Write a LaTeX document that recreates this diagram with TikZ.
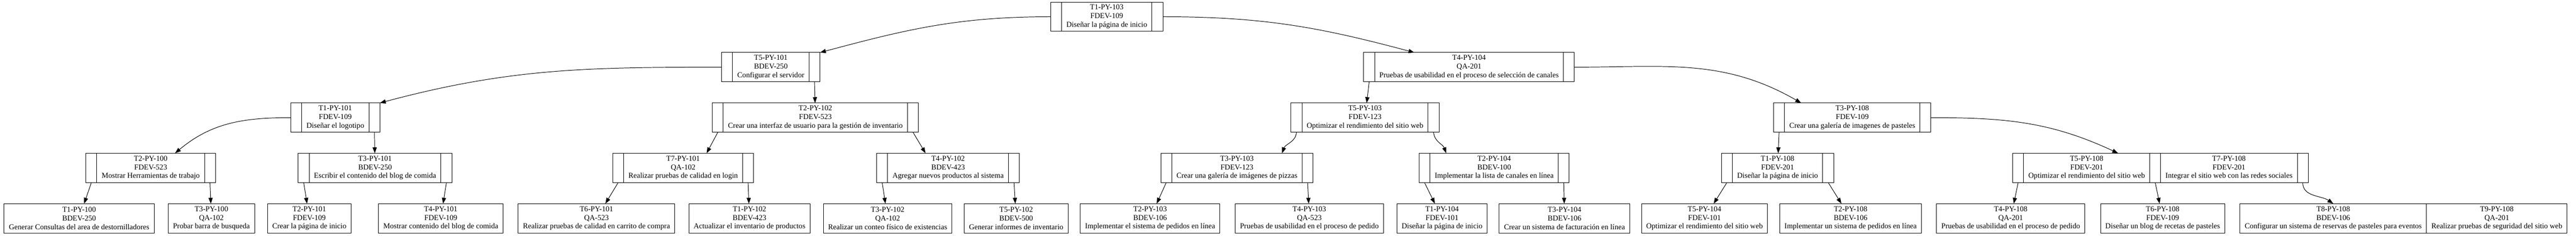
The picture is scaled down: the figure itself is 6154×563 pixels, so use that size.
\documentclass[tikz,border=0pt]{standalone}
\usepackage{fontspec}
\setmainfont{Liberation Serif}
\tikzset{
every picture/.style={
line width=1.2pt
}}
\usetikzlibrary{positioning, arrows.meta}

\begin{document}
\begin{tikzpicture}[x=1pt, y=-1pt,
font=\fontsize{18pt}{20.7pt}\selectfont,
keybox/.style = {rectangle, draw=black, align=center, inner xsep=11.5pt, inner ysep=0pt, minimum height=70pt, outer sep=0pt},
ptrbox/.style = {rectangle, draw=black, minimum width=26pt, minimum height=70pt, inner sep=0pt, outer sep=0pt},
leafbox/.style = {keybox},
link/.style = {-{Triangle[length=14pt, width=10pt]}}]

  \useasboundingbox (0,0) rectangle (6154,563);

  \node[keybox] (t1_103) at (2644,40) {T1-PY-103\\FDEV-109\\Diseñar la página de inicio};
  \node[ptrbox, left=0pt of t1_103] (t1_103_l) {};
  \node[ptrbox, right=0pt of t1_103] (t1_103_r) {};

  \node[keybox] (t5_101) at (1841.5,160.5) {T5-PY-101\\BDEV-250\\Configurar el servidor};
  \node[ptrbox, left=0pt of t5_101] (t5_101_l) {};
  \node[ptrbox, right=0pt of t5_101] (t5_101_r) {};
  \node[keybox] (t4_104) at (3509.5,160.5) {T4-PY-104\\QA-201\\Pruebas de usabilidad en el proceso de selección de canales};
  \node[ptrbox, left=0pt of t4_104] (t4_104_l) {};
  \node[ptrbox, right=0pt of t4_104] (t4_104_r) {};

  \node[keybox] (t1_101) at (801,281) {T1-PY-101\\FDEV-109\\Diseñar el logotipo};
  \node[ptrbox, left=0pt of t1_101] (t1_101_l) {};
  \node[ptrbox, right=0pt of t1_101] (t1_101_r) {};
  \node[keybox] (t2_102) at (1948,281) {T2-PY-102\\FDEV-523\\Crear una interfaz de usuario para la gestión de inventario};
  \node[ptrbox, left=0pt of t2_102] (t2_102_l) {};
  \node[ptrbox, right=0pt of t2_102] (t2_102_r) {};
  \node[keybox] (t5_103) at (3261,281) {T5-PY-103\\FDEV-123\\Optimizar el rendimiento del sitio web};
  \node[ptrbox, left=0pt of t5_103] (t5_103_l) {};
  \node[ptrbox, right=0pt of t5_103] (t5_103_r) {};
  \node[keybox] (t3_108) at (4425,281) {T3-PY-108\\FDEV-109\\Crear una galería de imagenes de pasteles};
  \node[ptrbox, left=0pt of t3_108] (t3_108_l) {};
  \node[ptrbox, right=0pt of t3_108] (t3_108_r) {};

  \node[keybox] (t2_100) at (360,401) {T2-PY-100\\FDEV-523\\Mostrar Herramientas de trabajo};
  \node[ptrbox, left=0pt of t2_100] (t2_100_l) {};
  \node[ptrbox, right=0pt of t2_100] (t2_100_r) {};
  \node[keybox] (t3_101) at (896,401) {T3-PY-101\\BDEV-250\\Escribir el contenido del blog de comida};
  \node[ptrbox, left=0pt of t3_101] (t3_101_l) {};
  \node[ptrbox, right=0pt of t3_101] (t3_101_r) {};
  \node[keybox] (t7_101) at (1632,401) {T7-PY-101\\QA-102\\Realizar pruebas de calidad en login};
  \node[ptrbox, left=0pt of t7_101] (t7_101_l) {};
  \node[ptrbox, right=0pt of t7_101] (t7_101_r) {};
  \node[keybox] (t4_102) at (2265,401) {T4-PY-102\\BDEV-423\\Agregar nuevos productos al sistema};
  \node[ptrbox, left=0pt of t4_102] (t4_102_l) {};
  \node[ptrbox, right=0pt of t4_102] (t4_102_r) {};
  \node[keybox] (t3_103) at (2955,401) {T3-PY-103\\FDEV-123\\Crear una galería de imágenes de pizzas};
  \node[ptrbox, left=0pt of t3_103] (t3_103_l) {};
  \node[ptrbox, right=0pt of t3_103] (t3_103_r) {};
  \node[keybox] (t2_104) at (3569.5,401) {T2-PY-104\\BDEV-100\\Implementar la lista de canales en línea};
  \node[ptrbox, left=0pt of t2_104] (t2_104_l) {};
  \node[ptrbox, right=0pt of t2_104] (t2_104_r) {};
  \node[keybox] (t1_108) at (4246.5,401) {T1-PY-108\\FDEV-201\\Diseñar la página de inicio};
  \node[ptrbox, left=0pt of t1_108] (t1_108_l) {};
  \node[ptrbox, right=0pt of t1_108] (t1_108_r) {};
  \node[keybox] (t5_108) at (4985,401) {T5-PY-108\\FDEV-201\\Optimizar el rendimiento del sitio web};
  \node[ptrbox, left=0pt of t5_108] (t5_108_l) {};
  \node[ptrbox, right=0pt of t5_108] (t5_108_m) {};
  \node[keybox, right=0pt of t5_108_m] (t7_108) {T7-PY-108\\FDEV-201\\Integrar el sitio web con las redes sociales};
  \node[ptrbox, right=0pt of t7_108] (t7_108_r) {};

  \node[leafbox] (t1_100) at (189,521.5) {T1-PY-100\\BDEV-250\\Generar Consultas del area de destornilladores};
  \node[leafbox] (t3_100) at (505,521.5) {T3-PY-100\\QA-102\\Probar barra de busqueda};
  \node[leafbox] (t2_101) at (739,521.5) {T2-PY-101\\FDEV-109\\Crear la página de inicio};
  \node[leafbox] (t4_101) at (1053,521.5) {T4-PY-101\\FDEV-109\\Mostrar contenido del blog de comida};
  \node[leafbox] (t6_101) at (1425,521.5) {T6-PY-101\\QA-523\\Realizar pruebas de calidad en carrito de compra};
  \node[leafbox] (t1_102) at (1790.5,521.5) {T1-PY-102\\BDEV-423\\Actualizar el inventario de productos};
  \node[leafbox] (t3_102) at (2120.5,521.5) {T3-PY-102\\QA-102\\Realizar un conteo físico de existencias};
  \node[leafbox] (t5_102) at (2427.5,521.5) {T5-PY-102\\BDEV-500\\Generar informes de inventario};
  \node[leafbox] (t2_103) at (2747.5,521.5) {T2-PY-103\\BDEV-106\\Implementar el sistema de pedidos en línea};
  \node[leafbox] (t4_103) at (3128,521.5) {T4-PY-103\\QA-523\\Pruebas de usabilidad en el proceso de pedido};
  \node[leafbox] (t1_104) at (3445,521.5) {T1-PY-104\\FDEV-101\\Diseñar la página de inicio};
  \node[leafbox] (t3_104) at (3737.5,521.5) {T3-PY-104\\BDEV-106\\Crear un sistema de facturación en línea};
  \node[leafbox] (t5_104) at (4072,521.5) {T5-PY-104\\FDEV-101\\Optimizar el rendimiento del sitio web};
  \node[leafbox] (t2_108) at (4421,521.5) {T2-PY-108\\BDEV-106\\Implementar un sistema de pedidos en línea};
  \node[leafbox] (t4_108) at (4803.5,521.5) {T4-PY-108\\QA-201\\Pruebas de usabilidad en el proceso de pedido};
  \node[leafbox] (t6_108) at (5166.5,521.5) {T6-PY-108\\FDEV-109\\Diseñar un blog de recetas de pasteles};
  \node[leafbox] (t8_108) at (5574,521.5) {T8-PY-108\\BDEV-106\\Configurar un sistema de reservas de pasteles para eventos};
  \node[leafbox, right=0pt of t8_108] (t9_108) {T9-PY-108\\QA-201\\Realizar pruebas de seguridad del sitio web};

  \draw[link] (t1_103_l.west) to[out=180, in=15] (t5_101_r.north east);
  \draw[link] (t1_103_r.east) to[out=0, in=165] (t4_104.165);

  \draw[link] (t5_101_l.west) to[out=180, in=15] (t1_101_r.north east);
  \draw[link] (t5_101_r.south) -- (t2_102);
  \draw[link] (t4_104_l.south) -- (t5_103);
  \draw[link] (t4_104_r.east) to[out=0, in=150] (t3_108.164);

  \draw[link] (t1_101_l.west) to[out=180, in=40] (t2_100.31);
  \draw[link] (t1_101_r.south) -- (t3_101);
  \draw[link] (t2_102_l.south) -- (t7_101.32);
  \draw[link] (t2_102_r.south) -- (t4_102.147);
  \draw[link] (t5_103_l.south) to[out=-95, in=70] (t3_103.18);
  \draw[link] (t5_103_r.south) to[out=-85, in=110] (t2_104.163);
  \draw[link] (t3_108_l.south) -- (t1_108);
  \draw[link] (t3_108_r.east) to[out=0, in=155] (t5_108.25);

  \draw[link] (t2_100_l.south) -- (t1_100);
  \draw[link] (t2_100_r.south) -- (t3_100);
  \draw[link] (t3_101_l.south) -- (t2_101);
  \draw[link] (t3_101_r.south) -- (t4_101);
  \draw[link] (t7_101_l.south) -- (t6_101);
  \draw[link] (t7_101_r.south) -- (t1_102);
  \draw[link] (t4_102_l.south) -- (t3_102);
  \draw[link] (t4_102_r.south) -- (t5_102);
  \draw[link] (t3_103_l.south) -- (t2_103);
  \draw[link] (t3_103_r.south) -- (t4_103);
  \draw[link] (t2_104_l.south) -- (t1_104);
  \draw[link] (t2_104_r.south) -- (t3_104);
  \draw[link] (t1_108_l.south) -- (t5_104);
  \draw[link] (t1_108_r.south) -- (t2_108);
  \draw[link] (t5_108_l.south) -- (t4_108);
  \draw[link] (t5_108_m.south) -- (t6_108);
  \draw[link] (t7_108_r.south) to[out=-90, in=145] (t8_108.north);

\end{tikzpicture}
\end{document}
